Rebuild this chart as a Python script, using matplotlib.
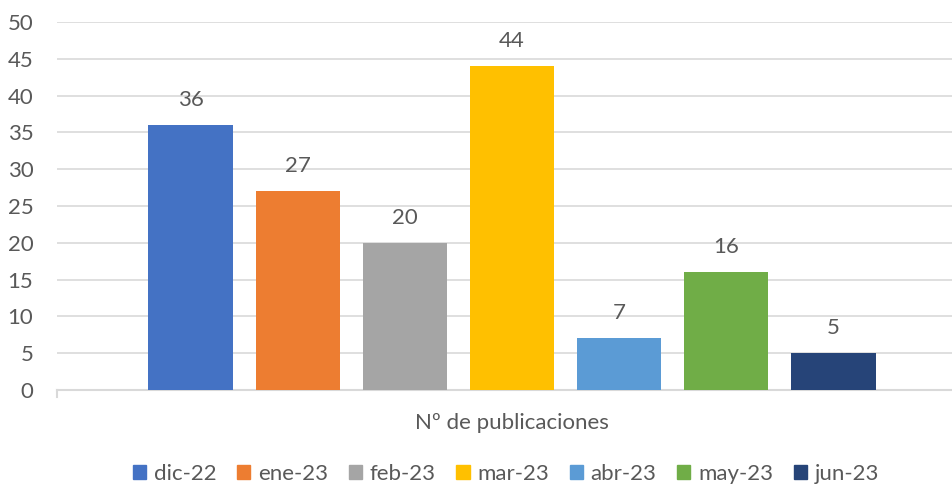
import matplotlib.pyplot as plt
from matplotlib.patches import Patch
import numpy as np

plt.rcParams['font.family'] = ['Lato', 'DejaVu Sans']

# datos
meses = ['dic-22', 'ene-23', 'feb-23', 'mar-23', 'abr-23', 'may-23', 'jun-23']
publicaciones = [36, 27, 20, 44, 7, 16, 5]
colores = ['#4472C4', '#ED7D31', '#A5A5A5', '#FFC000', '#5B9BD5', '#70AD47', '#264478']
categoria = 'Nº de publicaciones'
gris = '#595959'
fs = 16

fig = plt.figure(figsize=(9.53, 4.84), dpi=100)
ax = fig.add_axes([57/953, 94/484, 910/953, 368/484])

x = np.arange(len(meses)) - (len(meses) - 1) / 2
barras = ax.bar(x, publicaciones, width=0.794, color=colores, zorder=3)
for xi, v in zip(x, publicaciones):
    ax.annotate(str(v), (xi, v), xytext=(0, 11), textcoords='offset points',
                ha='center', va='bottom', fontsize=fs, color=gris)

ax.set_xlim(-4.252, 4.252)
ax.set_ylim(0, 50)
ax.set_yticks(np.arange(0, 51, 5))
ax.tick_params(axis='y', length=0, pad=17, labelsize=fs, labelcolor=gris)
ax.set_xticks([])
ax.grid(axis='y', color='#D9D9D9', linewidth=1.2, zorder=0)
for s in ['top', 'right', 'left']:
    ax.spines[s].set_visible(False)
ax.spines['bottom'].set_color('#D9D9D9')
ax.spines['bottom'].set_linewidth(1.5)
ax.plot([-4.252, -4.252], [0, -1], color='#D9D9D9', lw=1.5, clip_on=False)

fig.text(512/953, 1 - 423/484, categoria, ha='center', va='center', fontsize=fs, color=gris)

handles = [Patch(color=c, label=m) for c, m in zip(colores, meses)]
fig.legend(handles=handles, loc='center', bbox_to_anchor=(506/953, 1 - 474/484), ncol=7,
           frameon=False, fontsize=fs, labelcolor=gris, handlelength=0.6, handleheight=0.6,
           handletextpad=0.35, columnspacing=0.92, borderpad=0)

fig.savefig('out.png', dpi=100)
